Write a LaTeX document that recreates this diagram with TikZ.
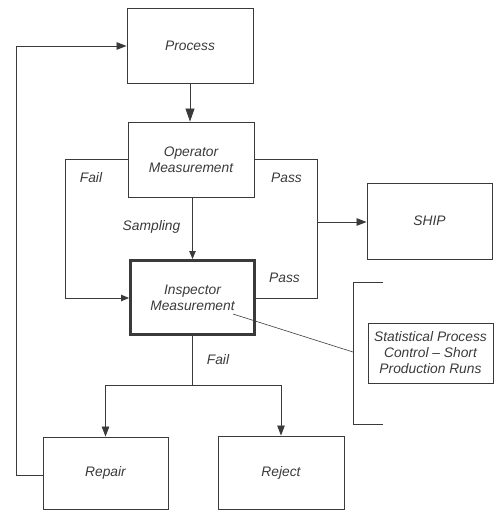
\documentclass[tikz,border=0pt]{standalone}
\usepackage{fontspec}
\setmainfont{Liberation Sans}
\usetikzlibrary{arrows.meta}
\definecolor{ink}{HTML}{3A3A3A}
\tikzset{
  box/.style={draw=ink, line width=0.9pt, minimum width=126pt, minimum height=75pt, inner sep=2pt, align=center,
    font=\itshape\fontsize{13.8}{16}\selectfont, text=ink},
  thickbox/.style={box, line width=3pt},
  conn/.style={draw=ink, line width=0.8pt},
  arr/.style={conn, -{Triangle[length=8pt,width=6.5pt]}},
  bigarr/.style={conn, -{Triangle[length=13pt,width=9pt]}},
  midarr/.style={conn, -{Triangle[length=10pt,width=7.5pt]}},
  lbl/.style={font=\itshape\fontsize{13.8}{16}\selectfont, text=ink, inner sep=0pt},
}
\begin{document}
\begin{tikzpicture}[x=1pt,y=-1pt]
\useasboundingbox (0,0) rectangle (494,510);
\node[box] (process) at (190,45.5) {Process};
\node[box] (oper) at (191,159.5) {Operator\\Measurement};
\node[box, minimum width=125pt, minimum height=76pt] (ship) at (429.5,221) {SHIP};
\node[thickbox, minimum width=124pt, minimum height=74pt] (insp) at (192.5,297.5) {Inspector\\Measurement};
\node[box, minimum width=125pt, minimum height=60pt] (spc) at (430.5,353) {Statistical Process\\Control -- Short\\Production Runs};
\node[box, minimum width=125pt, minimum height=72pt] (repair) at (105.5,473) {Repair};
\node[box, minimum width=126pt, minimum height=73pt] (reject) at (281,472.5) {Reject};

\coordinate (failL1) at (65,159);
\coordinate (failL2) at (65,298);
\coordinate (passR1) at (317,159);
\coordinate (passR2) at (317,298);
\coordinate (shipj) at (317,222);
\coordinate (failj) at (192.5,385);
\coordinate (rj) at (105.5,385);
\coordinate (xj) at (281,385);
\coordinate (fb1) at (16,475);
\coordinate (fb2) at (16,46);
\coordinate (ann1) at (233,314);
\coordinate (brT2) at (383,282);
\coordinate (brT1) at (353,282);
\coordinate (brM) at (353,352);
\coordinate (brB1) at (353,424);
\coordinate (brB2) at (383,424);

\draw[bigarr] (process.south) -- (process.south |- oper.north);
\draw[arr] (oper.south -| insp.north) -- (insp.north);
\draw[arr] (oper.west |- failL1) -- (failL1) -- (failL2) -- (insp.west |- failL2);
\draw[conn] (oper.east |- passR1) -- (passR1) -- (passR2) -- (insp.east |- passR2);
\draw[midarr] (shipj) -- (ship.west |- shipj);
\draw[conn] (insp.south) -- (failj);
\draw[conn] (rj) -- (xj);
\draw[midarr] (rj) -- (repair.north);
\draw[midarr] (xj) -- (reject.north);
\draw[midarr] (repair.west |- fb1) -- (fb1) -- (fb2) -- (process.west |- fb2);
\draw[conn, line width=0.6pt] (ann1) -- (brM);
\draw[conn] (brT2) -- (brT1) -- (brB1) -- (brB2);

\node[lbl] (l1) at (91,178) {Fail};
\node[lbl] (l2) at (286.5,178) {Pass};
\node[lbl] (l3) at (151.5,227) {Sampling};
\node[lbl] (l4) at (284.5,278) {Pass};
\node[lbl] (l5) at (218,360) {Fail};
\end{tikzpicture}
\end{document}
